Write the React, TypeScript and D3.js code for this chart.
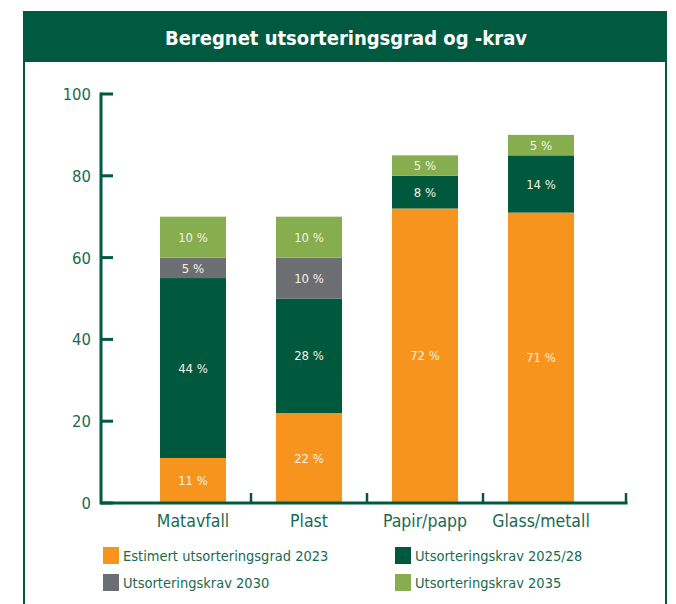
import React from "react";
import * as d3 from "d3";

const categories = ["Matavfall", "Plast", "Papir/papp", "Glass/metall"];
const seriesNames = [
  "Estimert utsorteringsgrad 2023",
  "Utsorteringskrav 2025/28",
  "Utsorteringskrav 2030",
  "Utsorteringskrav 2035",
];
const estimert2023 = [11, 22, 72, 71];
const krav2025 = [44, 28, 8, 14];
const krav2030 = [5, 10, 0, 0];
const krav2035 = [10, 10, 5, 5];
const yTicks = [0, 20, 40, 60, 80, 100];
const title = "Beregnet utsorteringsgrad og -krav";

const colors = ["#F7941D", "#00583D", "#6D6E71", "#86AE4F"];
const textGreen = "#1a6a50";
const font = "'DejaVu Sans Condensed', 'DejaVu Sans', sans-serif";

export default function App() {
  const W = 676, H = 604;
  const y = d3.scaleLinear().domain([0, 100]).range([503, 94]);
  const x = d3.scaleBand<string>().domain(categories).range([135, 599]).paddingInner(0.431).paddingOuter(0.2155);
  const values = [estimert2023, krav2025, krav2030, krav2035];
  const rows = categories.map((c, i) => {
    const r: any = { cat: c };
    seriesNames.forEach((s, k) => (r[s] = values[k][i]));
    return r;
  });
  const stacked = d3.stack<any>().keys(seriesNames)(rows);
  const step = x.step();
  const bw = x.bandwidth();
  const sepTicks = categories.slice(1).map((c) => (x(c) as number) - (step - bw) / 2);
  const axisX0 = 101, axisX1 = 626;

  return (
    <svg width={W} height={H} style={{ position: "absolute", left: 0, top: 0 }} fontFamily={font}>
      <rect x={0} y={0} width={W} height={H} fill="#fff" />
      {/* frame */}
      <rect x={23} y={11} width={644} height={51} fill="#005A3F" />
      <line x1={24} y1={11} x2={24} y2={H} stroke="#005A3F" strokeWidth={2} />
      <line x1={666} y1={11} x2={666} y2={H} stroke="#005A3F" strokeWidth={2} />
      <text x={346} y={44.5} textAnchor="middle" fill="#fff" fontSize={20} fontWeight="bold">{title}</text>

      {/* bars */}
      {stacked.map((layer, k) =>
        layer.map((d, i) => {
          const v = d[1] - d[0];
          if (v <= 0) return null;
          const cx = (x(categories[i]) as number) + bw / 2;
          const y0 = y(d[0]), y1 = y(d[1]);
          return (
            <g key={k + "-" + i}>
              <rect x={x(categories[i])} y={y1} width={bw} height={y0 - y1} fill={colors[k]} />
              <text x={cx} y={(y0 + y1) / 2} dy="0.36em" textAnchor="middle" fill="#F4F1E6" fontSize={13}>{v} %</text>
            </g>
          );
        })
      )}

      {/* y axis */}
      <line x1={axisX0} y1={y(100) - 1.5} x2={axisX0} y2={y(0) + 1.5} stroke="#005A3F" strokeWidth={3} />
      {yTicks.map((t) => (
        <g key={t}>
          <line x1={axisX0} y1={y(t)} x2={113} y2={y(t)} stroke="#005A3F" strokeWidth={3} />
          <text x={91} y={y(t)} dy="0.36em" textAnchor="end" fill={textGreen} fontSize={16.5}>{t}</text>
        </g>
      ))}

      {/* x axis */}
      <line x1={axisX0} y1={y(0)} x2={axisX1 + 1.5} y2={y(0)} stroke="#005A3F" strokeWidth={3} />
      {[...sepTicks, axisX1].map((tx, i) => (
        <line key={i} x1={tx} y1={y(0)} x2={tx} y2={y(0) - 10} stroke="#005A3F" strokeWidth={2.5} />
      ))}
      {categories.map((c) => (
        <text key={c} x={(x(c) as number) + bw / 2} y={527} textAnchor="middle" fill={textGreen} fontSize={17.5}>{c}</text>
      ))}

      {/* legend */}
      {seriesNames.map((s, k) => {
        const col = k % 2 === 0 ? 0 : 1;
        const row = k < 2 ? 0 : 1;
        const lx = col === 0 ? 103 : 395;
        const ly = 547 + row * 27;
        return (
          <g key={s}>
            <rect x={lx} y={ly} width={16} height={17} fill={colors[k]} />
            <text x={lx + 20} y={ly + 8.5} dy="0.36em" fill={textGreen} fontSize={14.5}>{s}</text>
          </g>
        );
      })}
    </svg>
  );
}
